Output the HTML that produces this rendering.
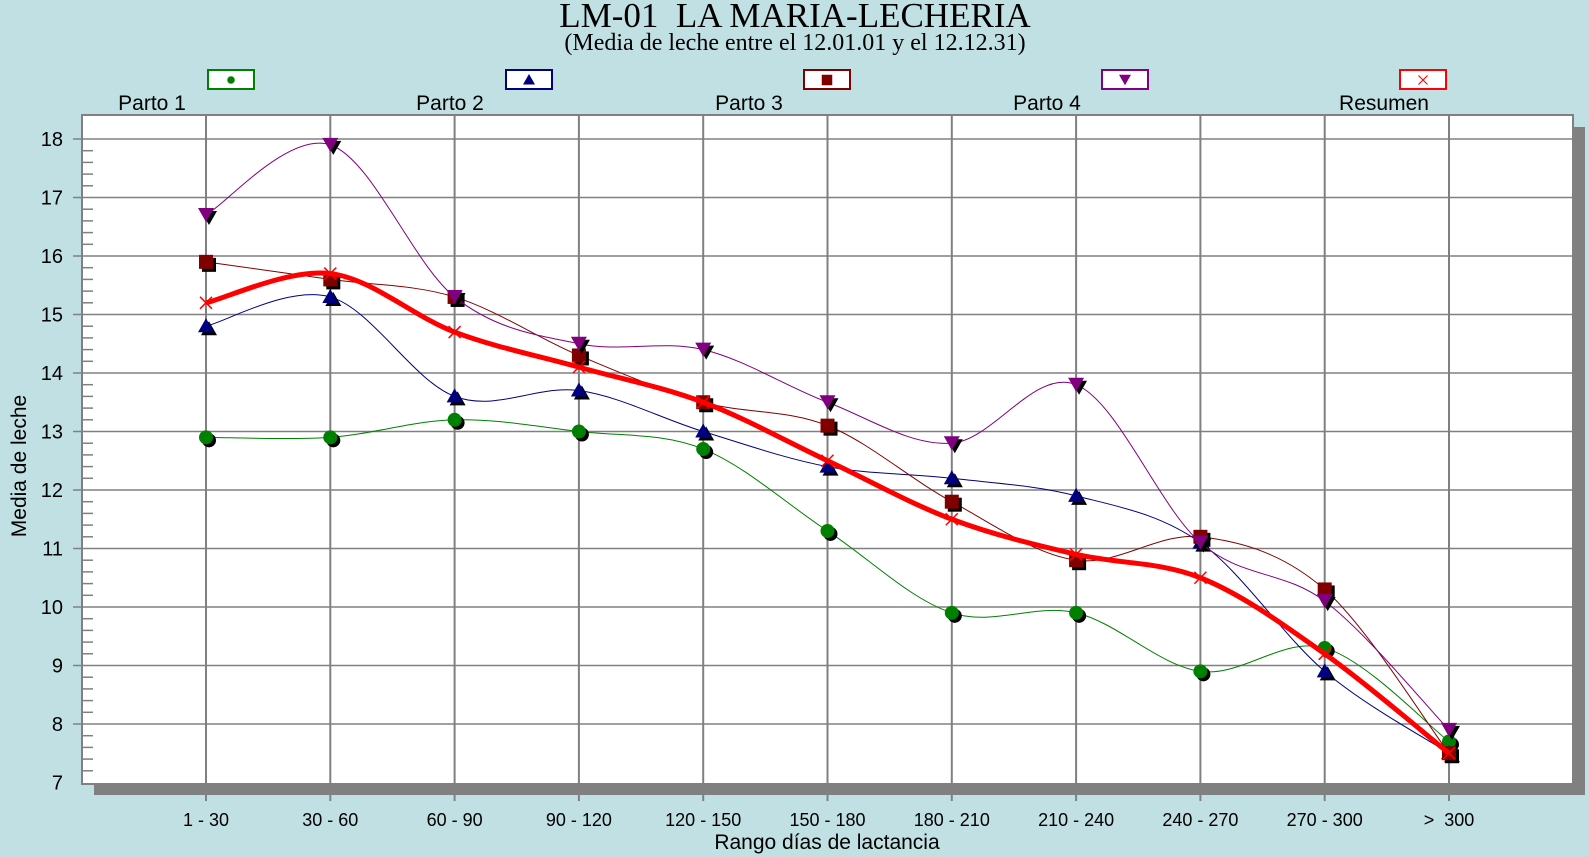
<!DOCTYPE html>
<html><head><meta charset="utf-8"><style>
body{margin:0;background:#c0e0e3;width:1589px;height:857px;overflow:hidden}
svg{display:block}
</style></head><body>
<svg id="s" width="1589" height="857" xmlns="http://www.w3.org/2000/svg" font-family="Liberation Sans, sans-serif">
<rect width="1589" height="857" fill="#c0e0e3"/>
<text x="795" y="27" text-anchor="middle" font-family="Liberation Serif, serif" font-size="35">LM-01&#160; LA MARIA-LECHERIA</text>
<text x="795" y="50" text-anchor="middle" font-family="Liberation Serif, serif" font-size="24">(Media de leche entre el 12.01.01 y el 12.12.31)</text>
<rect x="94" y="127" width="1491" height="668" fill="#808080"/>
<rect x="82" y="115" width="1491" height="669" fill="#fff" stroke="#808080" stroke-width="2"/>
<g id="g"></g>
<text x="26" y="466" transform="rotate(-90 26 466)" text-anchor="middle" font-size="21">Media de leche</text>
<text x="827" y="849" text-anchor="middle" font-size="21">Rango días de lactancia</text>
</svg>
<script>
const g=document.getElementById('g');let h='';
const X=i=>206+i*124.3, Y=v=>724-(v-8)*58.5;
const cats=['1 - 30','30 - 60','60 - 90','90 - 120','120 - 150','150 - 180','180 - 210','210 - 240','240 - 270','270 - 300','>\u00a0 300'];
for(let v=7;v<=18;v++){const y=Y(v);if(v>7)h+=`<line x1="73" x2="1573" y1="${y}" y2="${y}" stroke="#808080" stroke-width="1.5"/>`;
h+=`<text x="63" y="${y+7}" text-anchor="end" font-size="20">${v}</text>`;
if(v<18)for(let k=1;k<5;k++){const yy=y-k*11.7;h+=`<line x1="82" x2="93" y1="${yy}" y2="${yy}" stroke="#808080" stroke-width="1.5"/>`;}}
cats.forEach((c,i)=>{const x=X(i);h+=`<line x1="${x}" x2="${x}" y1="115" y2="801" stroke="#808080" stroke-width="2"/>`;
h+=`<text x="${x}" y="826" text-anchor="middle" font-size="18">${c}</text>`;});
const S=[
['#008000','c',[12.9,12.9,13.2,13.0,12.7,11.3,9.9,9.9,8.9,9.3,7.7],1],
['#000080','t',[14.8,15.3,13.6,13.7,13.0,12.4,12.2,11.9,11.1,8.9,7.5],1],
['#800000','s',[15.9,15.6,15.3,14.3,13.5,13.1,11.8,10.8,11.2,10.3,7.5],1],
['#800080','v',[16.7,17.9,15.3,14.5,14.4,13.5,12.8,13.8,11.1,10.1,7.9],1],
['#ff0000','x',[15.2,15.7,14.7,14.1,13.5,12.5,11.5,10.9,10.5,9.2,7.5],5]];
function path(d){const p=d.map((v,i)=>[X(i),Y(v)]);let s=`M${p[0]}`;
for(let i=0;i<p.length-1;i++){const a=p[i-1]||p[i],b=p[i],c=p[i+1],e=p[i+2]||c;
s+=` C${b[0]+(c[0]-a[0])/6},${b[1]+(c[1]-a[1])/6} ${c[0]-(e[0]-b[0])/6},${c[1]-(e[1]-b[1])/6} ${c[0]},${c[1]}`;}return s;}
function mk(t,x,y,col){if(t=='c')return `<circle cx="${x}" cy="${y}" r="7" fill="${col}"/>`;
if(t=='t')return `<polygon points="${x},${y-8} ${x+8},${y+6} ${x-8},${y+6}" fill="${col}"/>`;
if(t=='v')return `<polygon points="${x-8},${y-7} ${x+8},${y-7} ${x},${y+7}" fill="${col}"/>`;
if(t=='s')return `<rect x="${x-7}" y="${y-7}" width="14" height="14" fill="${col}"/>`;
return `<path d="M${x-6},${y-6}L${x+6},${y+6}M${x+6},${y-6}L${x-6},${y+6}" stroke="${col}" stroke-width="1.5"/>`;}
S.forEach(([col,t,d,w])=>{h+=`<path d="${path(d)}" fill="none" stroke="${col}" stroke-width="${w}"/>`;
d.forEach((v,i)=>{const x=X(i),y=Y(v);if(t!='x')h+=mk(t,x+3,y+3,'#000');h+=mk(t,x,y,col);});});
const lx=[231,529,827,1125,1423],ln=['Parto 1','Parto 2','Parto 3','Parto 4','Resumen'],lxl=[152,450,749,1047,1384];
S.forEach(([col,t],i)=>{h+=`<rect x="${lx[i]-23}" y="70" width="46" height="19" fill="#fff" stroke="${col}" stroke-width="2"/>`;
const m=mk(t,lx[i],80,col).replace(/r="7"/,'r="5"');h+=`<g transform="translate(${lx[i]},80) scale(0.75) translate(${-lx[i]},-80)">${m}</g>`;
h+=`<text x="${lxl[i]}" y="110" text-anchor="middle" font-size="21">${ln[i]}</text>`;});
g.innerHTML=h;
</script>
</body></html>
